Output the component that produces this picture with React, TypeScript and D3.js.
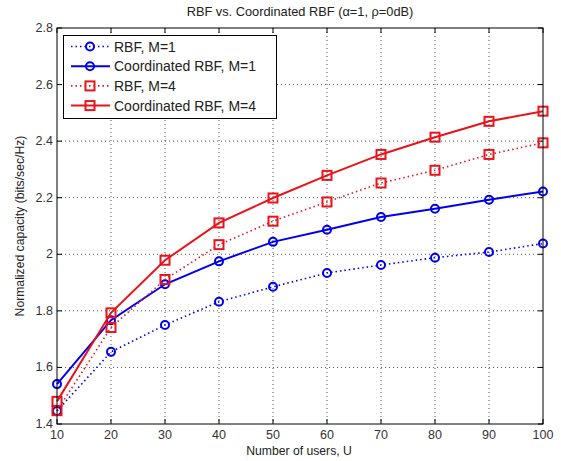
import React from "react";
import * as d3 from "d3";

const users = [10, 20, 30, 40, 50, 60, 70, 80, 90, 100];
const rbfM1 = [1.446, 1.655, 1.75, 1.832, 1.885, 1.934, 1.962, 1.988, 2.008, 2.038];
const coordM1 = [1.541, 1.767, 1.894, 1.975, 2.044, 2.087, 2.132, 2.161, 2.193, 2.222];
const rbfM4 = [1.447, 1.741, 1.911, 2.034, 2.117, 2.185, 2.252, 2.297, 2.353, 2.394];
const coordM4 = [1.48, 1.793, 1.979, 2.111, 2.199, 2.279, 2.353, 2.414, 2.47, 2.506];
const xTicks = [10, 20, 30, 40, 50, 60, 70, 80, 90, 100];
const yTicks = [1.4, 1.6, 1.8, 2, 2.2, 2.4, 2.6, 2.8];
const seriesNames = ["RBF, M=1", "Coordinated RBF, M=1", "RBF, M=4", "Coordinated RBF, M=4"];

const BLUE = "#0000ee";
const RED = "#e8141a";

const series = [
  { name: seriesNames[0], values: rbfM1, color: BLUE, dotted: true, marker: "circle" },
  { name: seriesNames[1], values: coordM1, color: BLUE, dotted: false, marker: "circle" },
  { name: seriesNames[2], values: rbfM4, color: RED, dotted: true, marker: "square" },
  { name: seriesNames[3], values: coordM4, color: RED, dotted: false, marker: "square" },
];

const L = 57, R = 543, T = 28, B = 424;

function Marker({ kind, x, y, color }: { kind: string; x: number; y: number; color: string }) {
  if (kind === "circle") {
    return <circle cx={x} cy={y} r={4} fill="none" stroke={color} strokeWidth={2} />;
  }
  return <rect x={x - 4.5} y={y - 4.5} width={9} height={9} fill="none" stroke={color} strokeWidth={2} />;
}

export default function App() {
  const x = d3.scaleLinear().domain([10, 100]).range([L, R]);
  const y = d3.scaleLinear().domain([1.4, 2.8]).range([B, T]);
  const line = d3
    .line<number>()
    .x((_, i) => x(users[i]))
    .y((d) => y(d));
  const font = "Liberation Sans, Arial, sans-serif";

  return (
    <svg
      width={561}
      height={461}
      style={{ position: "absolute", left: 0, top: 0, background: "#fff" }}
      fontFamily={font}
    >
      <rect x={0} y={0} width={561} height={461} fill="#fff" />
      {/* grid */}
      {xTicks.slice(1, -1).map((t) => (
        <line key={"gx" + t} x1={x(t)} x2={x(t)} y1={T} y2={B} stroke="#555" strokeWidth={1} strokeDasharray="1,3" />
      ))}
      {yTicks.slice(1, -1).map((t) => (
        <line key={"gy" + t} x1={L} x2={R} y1={y(t)} y2={y(t)} stroke="#555" strokeWidth={1} strokeDasharray="1,3" />
      ))}
      {/* ticks */}
      {xTicks.map((t) => (
        <g key={"tx" + t}>
          <line x1={x(t)} x2={x(t)} y1={B} y2={B - 5} stroke="#000" />
          <line x1={x(t)} x2={x(t)} y1={T} y2={T + 5} stroke="#000" />
          <text x={x(t)} y={B + 15} fontSize={12.5} textAnchor="middle" fill="#333">
            {t}
          </text>
        </g>
      ))}
      {yTicks.map((t) => (
        <g key={"ty" + t}>
          <line x1={L} x2={L + 5} y1={y(t)} y2={y(t)} stroke="#000" />
          <line x1={R} x2={R - 5} y1={y(t)} y2={y(t)} stroke="#000" />
          <text x={L - 4} y={y(t) + 4} fontSize={12.5} textAnchor="end" fill="#333">
            {d3.format("~g")(t)}
          </text>
        </g>
      ))}
      {/* series */}
      {series.map((s) => (
        <g key={s.name}>
          <path
            d={line(s.values) || ""}
            fill="none"
            stroke={s.color}
            strokeWidth={s.dotted ? 1.6 : 2}
            strokeDasharray={s.dotted ? "1.5,3" : undefined}
          />
          {s.values.map((v, i) => (
            <Marker key={i} kind={s.marker} x={x(users[i])} y={y(v)} color={s.color} />
          ))}
        </g>
      ))}
      {/* frame */}
      <rect x={L} y={T} width={R - L} height={B - T} fill="none" stroke="#000" strokeWidth={1} />
      {/* legend */}
      <rect x={63.5} y={35.5} width={213} height={83} fill="#fff" stroke="#000" strokeWidth={1} />
      {series.map((s, i) => {
        const ly = 46.5 + i * 19.7;
        return (
          <g key={"lg" + i}>
            <line
              x1={71}
              x2={110}
              y1={ly}
              y2={ly}
              stroke={s.color}
              strokeWidth={s.dotted ? 1.6 : 2}
              strokeDasharray={s.dotted ? "1.5,3" : undefined}
            />
            <Marker kind={s.marker} x={90} y={ly} color={s.color} />
            <text x={114} y={ly + 5} fontSize={14} fill="#222">
              {s.name}
            </text>
          </g>
        );
      })}
      {/* title and labels */}
      <text x={300} y={16} fontSize={12.8} textAnchor="middle" fill="#222">
        RBF vs. Coordinated RBF (α=1, ρ=0dB)
      </text>
      <text x={299} y={455} fontSize={12.2} textAnchor="middle" fill="#222">
        Number of users, U
      </text>
      <text
        transform={`translate(24,${(T + B) / 2}) rotate(-90)`}
        fontSize={12.2}
        textAnchor="middle"
        fill="#222"
      >
        Normalized capacity (bits/sec/Hz)
      </text>
    </svg>
  );
}
